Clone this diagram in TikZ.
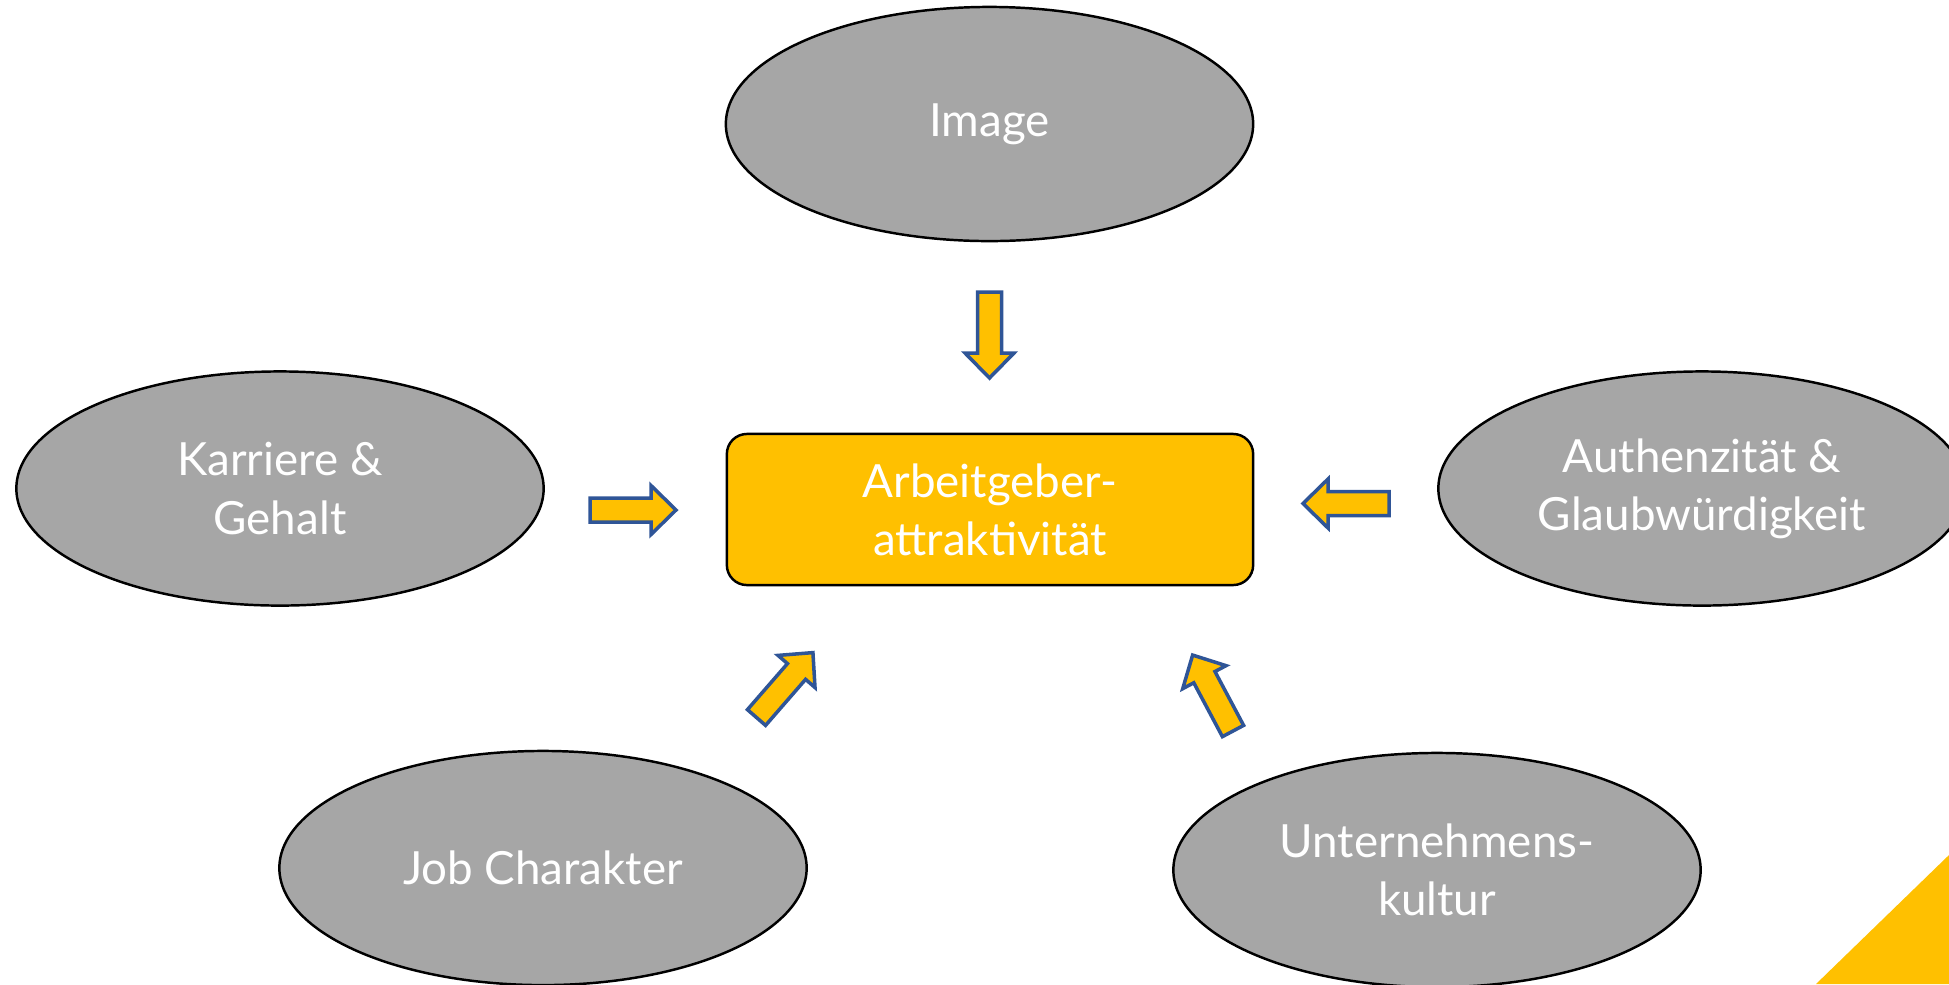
\documentclass[tikz,border=0pt]{standalone}
\usepackage{fontspec}
\setmainfont{Lato}
\usepackage{tikz}
\usetikzlibrary{positioning, shapes.geometric}

\definecolor{bubblegray}{HTML}{A6A6A6}
\definecolor{accent}{HTML}{FFC000}
\definecolor{arrowblue}{HTML}{2F5597}

\tikzset{
    blockarrow/.pic={
        \filldraw[fill=accent, draw=arrowblue, line width=1pt, line join=miter]
            (0,-12) -- (61,-12) -- (61,-24.5) -- (86,0) -- (61,24.5) -- (61,12) -- (0,12) -- cycle;
    }
}

\begin{document}
\begin{tikzpicture}[
    x=0.01cm, y=-0.01cm,
    label text/.style={text=white, font=\fontsize{13}{16.5}\selectfont, align=center},
    factor/.style={ellipse, draw=black, line width=0.7pt, fill=bubblegray,
        minimum width=5.27cm, minimum height=2.34cm, label text},
    target/.style={rectangle, rounded corners=2mm, draw=black, line width=0.7pt, fill=accent,
        minimum width=5.26cm, minimum height=1.51cm, label text}
]

    \useasboundingbox (0,0) rectangle (1949,984);
    \clip (0,0) rectangle (1949,984);

    % Centre
    \node[target] (attr) at (990,509.5) {Arbeitgeber-\\attraktivität};

    % Factors
    \node[factor] (image) at (989.5,124) {Image};
    \node[factor] (karriere) at (280,488.5) {Karriere \&\\Gehalt};
    \node[factor] (authen) at (1702,488.5) {Authenzität \&\\Glaubwürdigkeit};
    \node[factor] (job) at (543,868) {Job Charakter};
    \node[factor] (kultur) at (1437,870) {Unternehmens-\\kultur};

    % Block arrows towards the centre
    \pic[rotate=-90] at (989.5,292) {blockarrow};
    \pic at (590,510) {blockarrow};
    \pic[rotate=180] at (1389,503.5) {blockarrow};
    \pic[rotate=49] at (756.5,717.5) {blockarrow};
    \pic[rotate=118] at (1233,731) {blockarrow};

    % Corner accent
    \fill[accent] (1816,984) -- (1949,855) -- (1949,984) -- cycle;

\end{tikzpicture}
\end{document}
